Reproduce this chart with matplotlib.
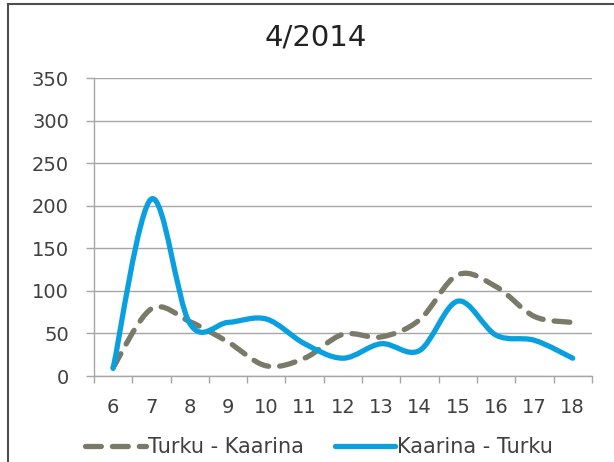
import matplotlib
matplotlib.use("Agg")
import matplotlib.pyplot as plt
from matplotlib.path import Path
import matplotlib.patches as patches
from matplotlib.lines import Line2D

plt.rcParams['font.family'] = 'DejaVu Sans'

# Hours of the day on the x axis
hours = [6, 7, 8, 9, 10, 11, 12, 13, 14, 15, 16, 17, 18]
turku_kaarina = [10, 79, 64, 40, 12, 21, 49, 46, 66, 119, 105, 70, 63]
kaarina_turku = [9, 208, 62, 63, 67, 38, 21, 38, 30, 88, 48, 42, 21]
y_ticks = [0, 50, 100, 150, 200, 250, 300, 350]

GRAY = '#7a7a68'
BLUE = '#0aa0e0'


def smooth_path(xs, ys):
    # Bezier segments through every point, like a spreadsheet "smoothed line"
    pts = list(zip(xs, ys))
    verts = [pts[0]]
    codes = [Path.MOVETO]
    n = len(pts)
    for i in range(n - 1):
        p0 = pts[i - 1] if i > 0 else pts[i]
        p1 = pts[i]
        p2 = pts[i + 1]
        p3 = pts[i + 2] if i + 2 < n else pts[i + 1]
        c1 = (p1[0] + (p2[0] - p0[0]) / 6.0, p1[1] + (p2[1] - p0[1]) / 6.0)
        c2 = (p2[0] - (p3[0] - p1[0]) / 6.0, p2[1] - (p3[1] - p1[1]) / 6.0)
        verts += [c1, c2, p2]
        codes += [Path.CURVE4, Path.CURVE4, Path.CURVE4]
    return Path(verts, codes)


fig = plt.figure(figsize=(6.14, 4.62), dpi=100)
ax = fig.add_axes([0.153, 0.186, 0.811, 0.645])

x = list(range(len(hours)))

# Dashed gray series first, blue on top
p = patches.PathPatch(smooth_path(x, turku_kaarina), facecolor='none',
                      edgecolor=GRAY, lw=3.8, linestyle=(0, (3.0, 2.1)),
                      capstyle='round', joinstyle='round', zorder=3)
ax.add_patch(p)
p = patches.PathPatch(smooth_path(x, kaarina_turku), facecolor='none',
                      edgecolor=BLUE, lw=3.8, capstyle='round',
                      joinstyle='round', zorder=4)
ax.add_patch(p)

ax.set_xlim(-0.5, len(hours) - 0.5)
ax.set_ylim(0, 350)
ax.set_yticks(y_ticks)
ax.set_yticklabels([str(v) for v in y_ticks])
ax.set_xticks(x)
ax.set_xticklabels([str(h) for h in hours])
ax.set_xticks([i - 0.5 for i in range(len(hours) + 1)], minor=True)

ax.grid(axis='y', color='#a6a6a6', lw=1.0)
ax.set_axisbelow(True)
for side in ['top', 'right']:
    ax.spines[side].set_visible(False)
for side in ['left', 'bottom']:
    ax.spines[side].set_color('#a6a6a6')
    ax.spines[side].set_linewidth(1.0)

ax.tick_params(axis='y', which='major', length=6, width=1, color='#a6a6a6',
               labelsize=14, labelcolor='#404040', pad=12)
ax.tick_params(axis='x', which='major', length=0, labelsize=14,
               labelcolor='#404040', pad=16)
ax.tick_params(axis='x', which='minor', length=5, width=1, color='#a6a6a6')

fig.text(0.515, 0.918, '4/2014', ha='center', va='center', fontsize=21,
         color='#222222')

handles = [
    Line2D([], [], color=GRAY, lw=3.8, linestyle=(0, (3.0, 2.1)),
           dash_capstyle='round'),
    Line2D([], [], color=BLUE, lw=3.8, solid_capstyle='round'),
]
fig.legend(handles, ['Turku - Kaarina', 'Kaarina - Turku'], loc='center',
           bbox_to_anchor=(0.52, 0.032), ncol=2, frameon=False, fontsize=15,
           handlelength=2.9, handletextpad=0.1, columnspacing=1.5,
           labelcolor='#404040')

# Chart frame: top and left edges
fig.add_artist(Line2D([8 / 614, 1.0], [1 - 4 / 462, 1 - 4 / 462],
                      transform=fig.transFigure, color='#4d4d4d', lw=1.5))
fig.add_artist(Line2D([8 / 614, 8 / 614], [1 - 4 / 462, 0.0],
                      transform=fig.transFigure, color='#4d4d4d', lw=1.5))

fig.savefig('out.png', dpi=100)
